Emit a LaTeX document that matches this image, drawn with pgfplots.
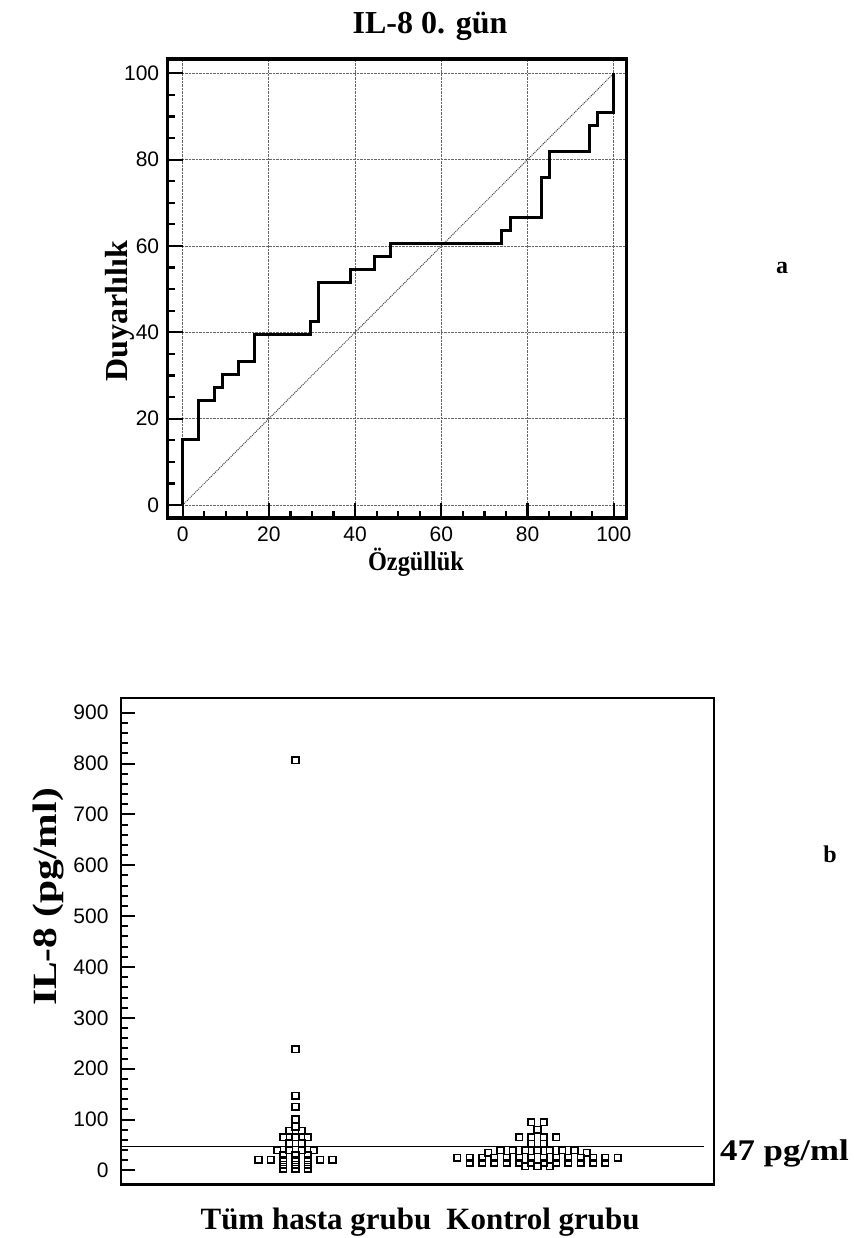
\documentclass[border=0pt]{standalone}
\usepackage{fontspec}
\setmainfont{Liberation Serif}
\newfontfamily\arial{Liberation Sans}
\usepackage{pgfplots}
\pgfplotsset{compat=1.18}
\begin{document}
\begin{tikzpicture}
\path[use as bounding box] (0pt,0pt) rectangle (853pt,-1238pt);
% ---------- (a) ROC ----------
\begin{axis}[
  at={(167.7pt,-59pt)}, anchor=north west,
  scale only axis, width=459pt, height=459pt,
  xmin=-3.48, xmax=103.0, ymin=-3.0, ymax=103.3,
  xtick={0,20,...,100}, ytick={0,20,...,100},
  minor tick num=3,
  xtick pos=bottom, ytick pos=left,
  tick align=inside,
  major tick length=15pt, minor tick length=7pt,
  every tick/.style={black, line width=2.2pt},
  grid=major,
  major grid style={densely dotted, black!60, line width=0.9pt},
  axis line style={line width=3.3pt},
  ticklabel style={font=\arial\fontsize{21}{25}\selectfont},
  yticklabel style={xshift=-5pt},
  xticklabel style={yshift=-8pt, inner sep=1pt},
  /pgf/number format/assume math mode=true,
  clip=false,
]
\addplot[black!75, densely dotted, line width=1pt] coordinates {(0,0) (100,100)};
\addplot[black, line width=3pt, line join=miter] coordinates {
(0,0) (0,15.15) (3.70,15.15) (3.70,24.24) (7.41,24.24) (7.41,27.27) (9.26,27.27) (9.26,30.30)
(12.96,30.30) (12.96,33.33) (16.67,33.33) (16.67,39.39) (29.63,39.39) (29.63,42.42)
(31.48,42.42) (31.48,51.52) (38.89,51.52) (38.89,54.55) (44.44,54.55) (44.44,57.58)
(48.15,57.58) (48.15,60.61) (74.07,60.61) (74.07,63.64) (75.93,63.64) (75.93,66.67)
(83.33,66.67) (83.33,75.76) (85.19,75.76) (85.19,81.82) (94.44,81.82) (94.44,87.88)
(96.30,87.88) (96.30,90.91) (100,90.91) (100,100)};
\end{axis}
% ---------- (b) dot plot ----------
\begin{axis}[
  at={(121pt,-698pt)}, anchor=north west,
  scale only axis, width=593pt, height=486.3pt,
  xmin=0.2789, xmax=2.7293, ymin=-27.3, ymax=928.9,
  xtick=\empty,
  ytick={0,100,...,900}, minor y tick num=4,
  ytick pos=left, tick align=inside,
  major tick length=14pt, minor tick length=7pt,
  every tick/.style={black, line width=2pt},
  axis line style={line width=2.7pt},
  ticklabel style={font=\arial\fontsize{21}{25}\selectfont},
  yticklabel style={xshift=-9pt},
  /pgf/number format/assume math mode=true,
  clip=false,
]
\addplot[black, line width=1.5pt] coordinates {(0.2789,47) (2.688,47)};
\addplot[only marks, mark=square, mark size=3.3pt, mark options={black, line width=1.6pt}] table {
x y
1 807
1 238
1 147
1 125
1 101
1 86
0.9745 78
1.0255 78
0.9490 65
1 65
1.0510 65
0.9745 53
1.0255 53
0.9236 40
0.9745 40
1.0255 40
1.0764 40
0.8471 21
0.8981 21
1.1019 21
1.1529 21
0.9490 30
1 30
1.0510 30
0.9490 20
1 20
1.0510 20
0.9490 11
1 11
1.0510 11
0.9490 3
1 3
1.0510 3
1.9745 95
2.0255 95
2 80
1.9236 65
1.9745 65
2.0255 65
2.0764 65
1.9745 52
2.0255 52
1.8471 40
1.8981 40
1.9490 40
2 40
2.0510 40
2.1019 40
2.1529 40
1.7962 35
2.2038 35
1.6688 25
1.7197 25
1.7707 25
1.8216 25
1.8726 25
1.9236 25
1.9745 25
2.0255 25
2.0764 25
2.1274 25
2.1784 25
2.2293 25
2.2803 25
2.3312 25
1.7197 15
1.7707 15
1.8216 15
1.8726 15
1.9236 15
1.9745 15
2.0255 15
2.0764 15
2.1274 15
2.1784 15
2.2293 15
2.2803 15
1.9490 8
2 8
2.0510 8
};
\end{axis}
% ---------- texts ----------
\node[anchor=base, font=\bfseries\fontsize{32}{36}\selectfont] at (430pt,-34pt) {IL-8 0. gün};
\node[rotate=90, anchor=base, font=\bfseries\fontsize{32}{36}\selectfont] at (127pt,-311pt) {Duyarlılık};
\node[anchor=base, inner sep=0pt, xscale=0.9, font=\bfseries\fontsize{27}{31}\selectfont] at (416pt,-570pt) {Özgüllük};
\node[anchor=base, font=\bfseries\fontsize{24}{28}\selectfont] at (782pt,-274pt) {a};
\node[rotate=90, anchor=base, xscale=1.22, font=\bfseries\fontsize{34}{38}\selectfont] at (56pt,-897pt) {IL-8 (pg/ml)};
\node[anchor=base west, xscale=1.16, font=\bfseries\fontsize{30}{34}\selectfont, inner sep=0pt] at (720pt,-1160pt) {47 pg/ml};
\node[anchor=base, font=\bfseries\fontsize{24}{28}\selectfont] at (830pt,-862pt) {b};
\node[anchor=base, font=\bfseries\fontsize{31}{35}\selectfont] at (316pt,-1229pt) {Tüm hasta grubu};
\node[anchor=base, font=\bfseries\fontsize{31}{35}\selectfont] at (543pt,-1229pt) {Kontrol grubu};
\end{tikzpicture}
\end{document}
